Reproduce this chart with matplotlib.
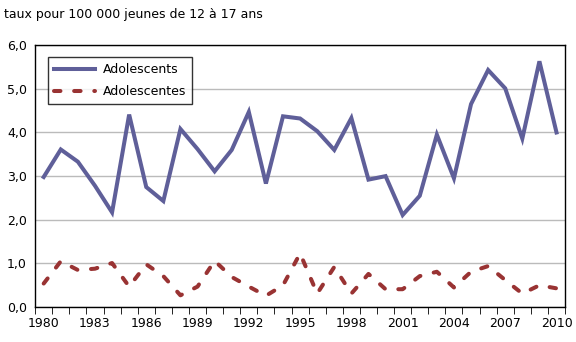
import matplotlib
matplotlib.use("Agg")
from matplotlib import pyplot as plt
import numpy as np

years = list(range(1980, 2011))
adolescents = [2.98, 3.61, 3.33, 2.78, 2.17, 4.41, 2.75, 2.43, 4.08, 3.62,
               3.11, 3.60, 4.47, 2.83, 4.37, 4.32, 4.03, 3.60, 4.33, 2.92,
               3.00, 2.11, 2.55, 3.95, 2.95, 4.65, 5.43, 5.01, 3.86, 5.63, 4.00]
adolescentes = [0.54, 1.05, 0.85, 0.88, 1.01, 0.47, 0.98, 0.71, 0.27, 0.47,
                1.06, 0.69, 0.47, 0.26, 0.50, 1.23, 0.31, 0.92, 0.31, 0.76,
                0.41, 0.41, 0.71, 0.81, 0.45, 0.81, 0.94, 0.62, 0.31, 0.50, 0.43]
yticks = [0, 1, 2, 3, 4, 5, 6]
xlabel_years = list(range(1980, 2011, 3))

plt.rcParams['font.family'] = ['DejaVu Sans']
fig = plt.figure(figsize=(5.76, 3.42), dpi=100)
ax = fig.add_axes([0.061, 0.102, 0.92, 0.766])

ax.plot(years, adolescents, color='#5f5f99', lw=2.9, label='Adolescents',
        solid_joinstyle='miter', zorder=3)
ax.plot(years, adolescentes, color='#993333', lw=2.9, label='Adolescentes',
        dashes=(1.6, 3.4), dash_capstyle='round', zorder=3)

ax.set_xlim(1979.5, 2010.5)
ax.set_ylim(0, 6)
ax.set_yticks(yticks)
ax.set_yticklabels([f"{v:.1f}".replace('.', ',') for v in yticks], fontsize=9)
ax.set_xticks(xlabel_years)
ax.set_xticklabels([str(y) for y in xlabel_years], fontsize=9)
ax.set_xticks(np.arange(1979.5, 2011, 1), minor=True)
ax.tick_params(axis='x', which='major', length=0, pad=7)
ax.tick_params(axis='x', which='minor', length=5, direction='out', color='black')
ax.tick_params(axis='y', length=0, pad=6)
ax.grid(axis='y', color='#bbbbbb', lw=1)
ax.set_axisbelow(True)
for s in ax.spines.values():
    s.set_color('black')
    s.set_linewidth(1)

leg = ax.legend(loc='upper left', bbox_to_anchor=(0.024, 0.955), fontsize=9,
                frameon=True, fancybox=False, handlelength=3.3, borderpad=0.5,
                labelspacing=0.7, borderaxespad=0, handletextpad=0.6)
leg.get_frame().set_edgecolor('black')
leg.get_frame().set_linewidth(1)

fig.text(0.007, 0.958, "taux pour 100 000 jeunes de 12 à 17 ans", fontsize=9,
         va='center', ha='left')

fig.savefig("out.png", dpi=100)
